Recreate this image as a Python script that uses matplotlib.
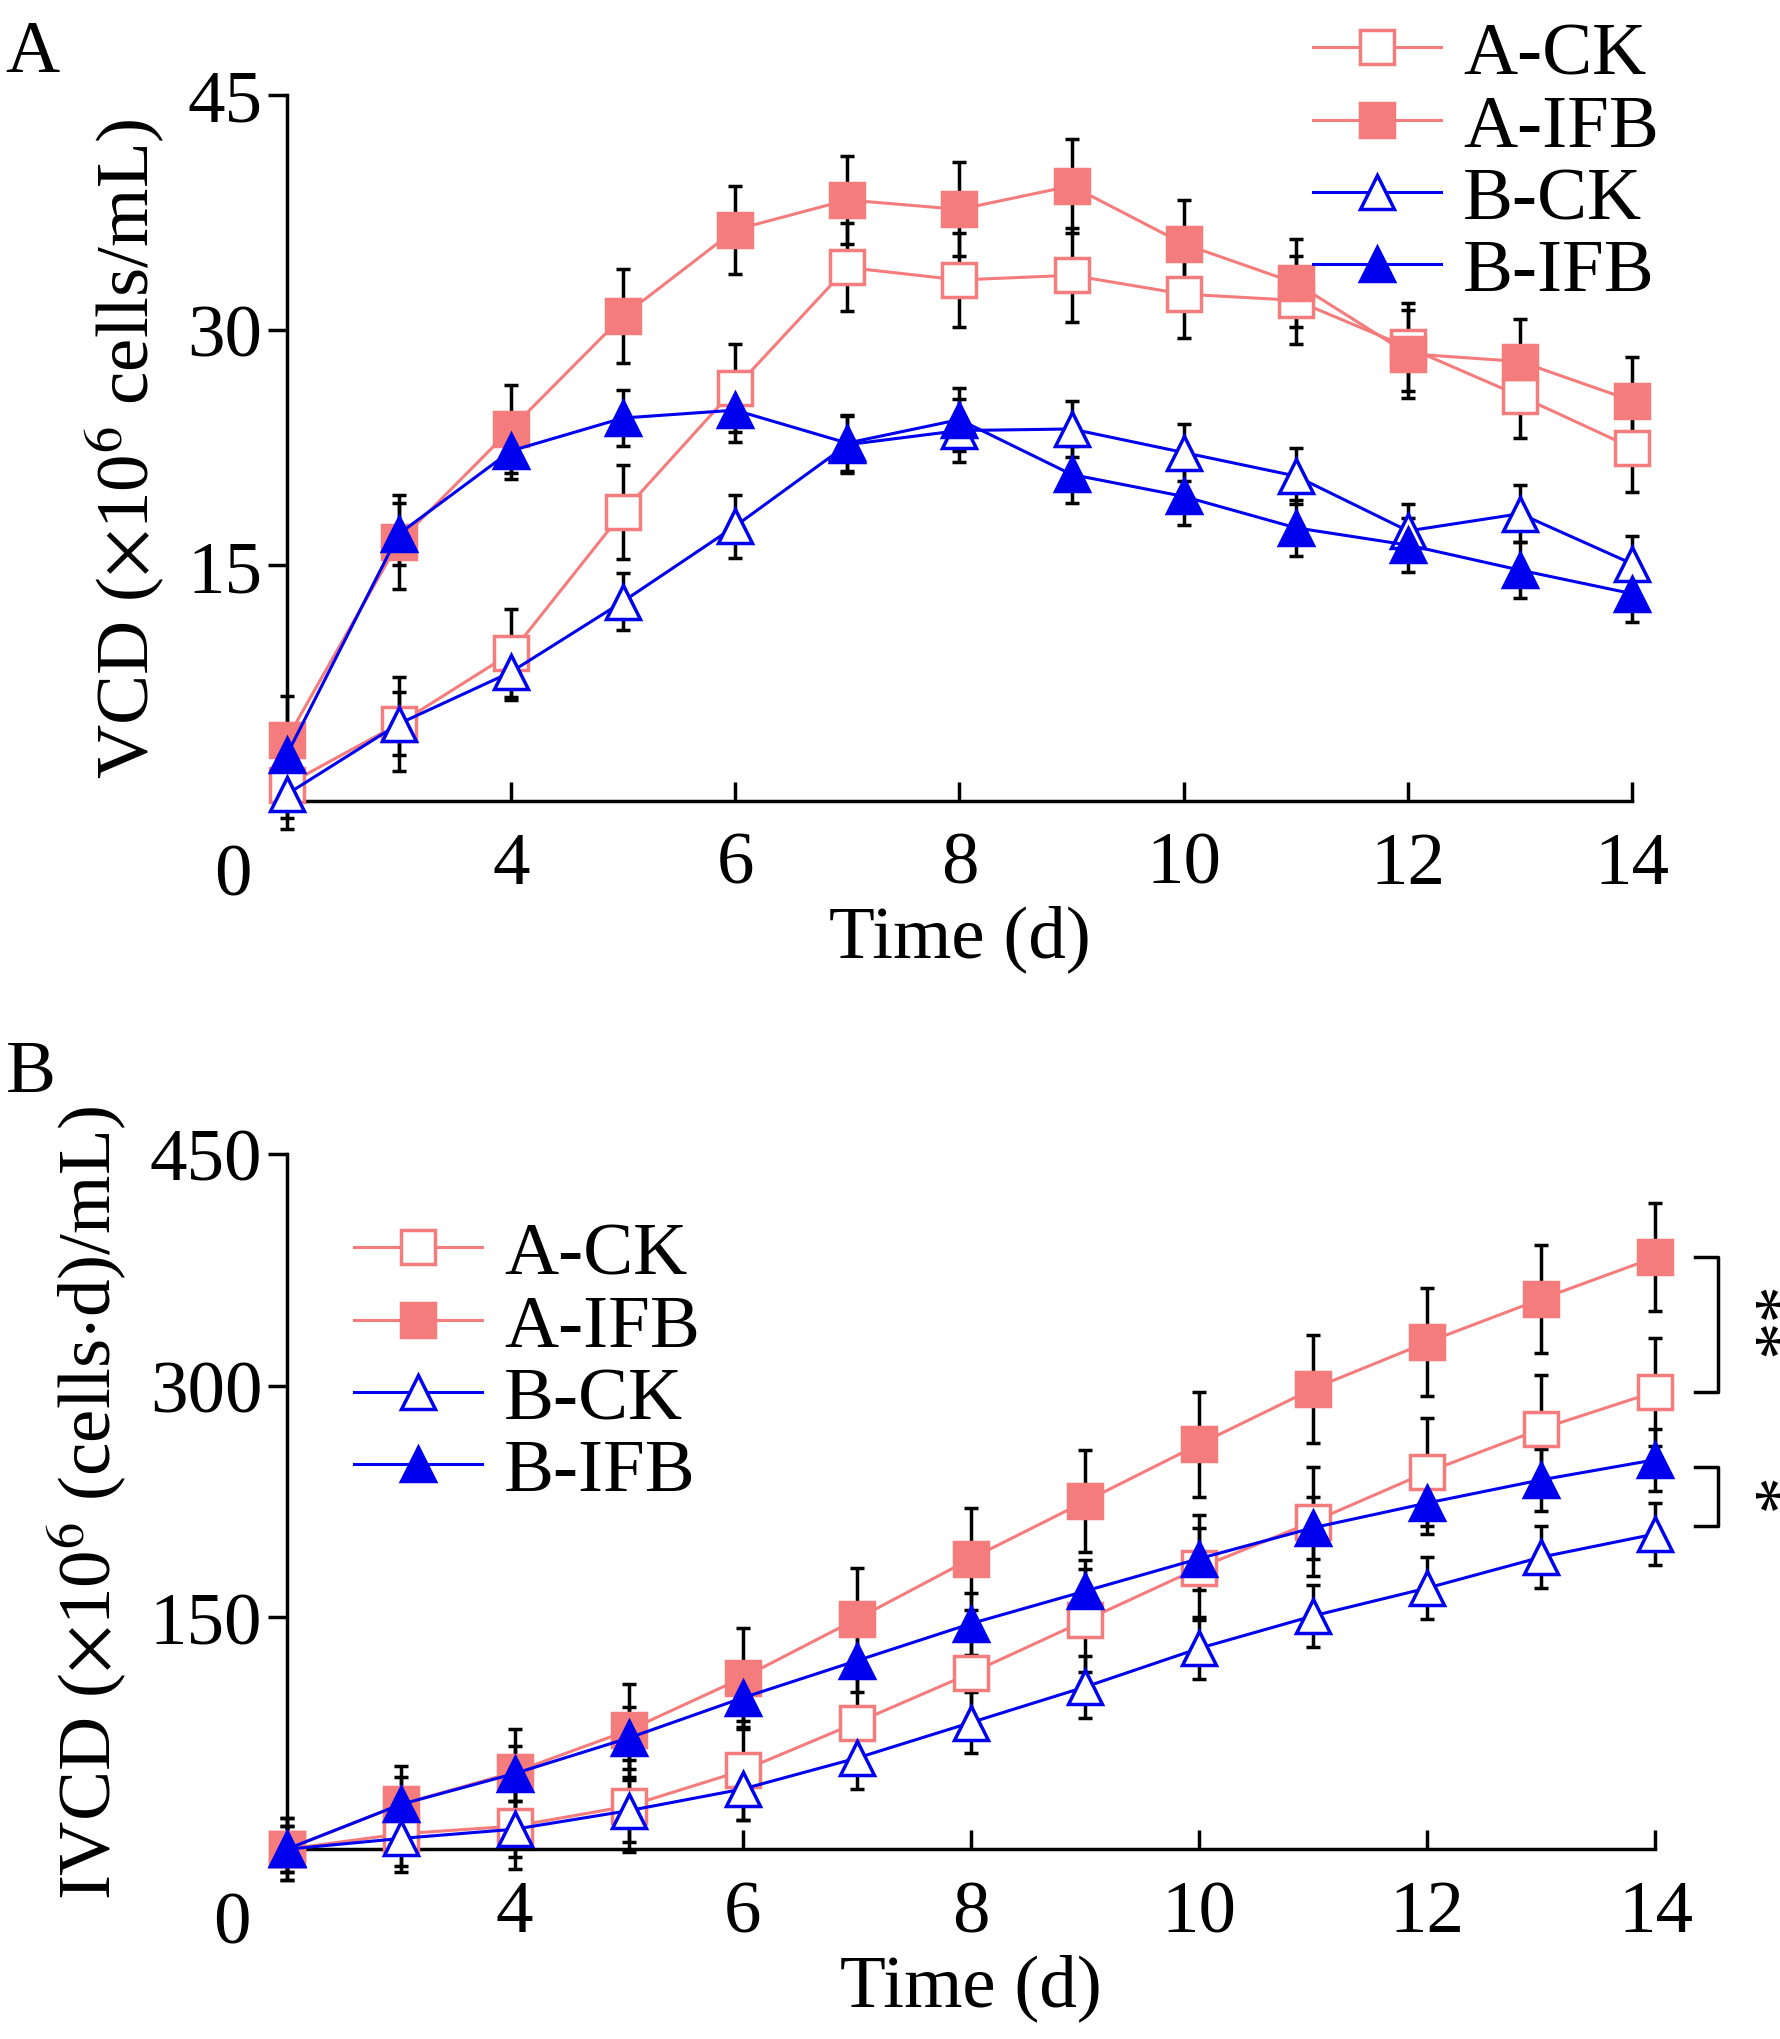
import matplotlib.pyplot as plt
import numpy as np

plt.rcParams['font.family'] = ['Liberation Serif', 'DejaVu Serif']
plt.rcParams['font.size'] = 54
plt.rcParams['mathtext.fontset'] = 'stix'

days = np.arange(2, 15)

# Panel A: VCD (x10^6 cells/mL)
vcd_a_ck = [1.0, 4.9, 9.4, 18.4, 26.3, 34.0, 33.2, 33.5, 32.3, 31.9, 28.9, 25.8, 22.5]
vcd_a_ifb = [3.9, 16.5, 23.7, 30.9, 36.4, 38.3, 37.7, 39.2, 35.5, 33.0, 28.5, 28.0, 25.5]
vcd_b_ck = [0.4, 4.9, 8.2, 12.7, 17.5, 22.7, 23.6, 23.7, 22.2, 20.7, 17.2, 18.3, 15.1]
vcd_b_ifb = [2.9, 17.0, 22.3, 24.4, 24.9, 22.8, 24.3, 20.8, 19.4, 17.4, 16.3, 14.7, 13.2]
vcd_err = [2.8, 3.0, 2.8, 3.0, 2.8, 2.8, 3.0, 3.0, 2.8, 2.8, 2.8, 2.7, 2.8]
vcd_err_b = [1.5, 2.0, 1.8, 1.8, 2.0, 1.8, 2.0, 1.8, 1.8, 1.8, 1.7, 1.8, 1.8]

# Panel B: IVCD (x10^6 cells*d/mL)
ivcd_a_ck = [0, 10, 15, 28, 51, 82, 114, 148, 182, 212, 244, 272, 296]
ivcd_a_ifb = [0, 29, 50, 77, 111, 149, 188, 225, 262, 298, 328, 356, 383]
ivcd_b_ck = [0, 7, 13, 25, 39, 59, 82, 105, 130, 151, 169, 189, 204]
ivcd_b_ifb = [0, 29, 49, 72, 98, 122, 146, 167, 188, 208, 224, 239, 252]
ivcd_err_a = [20, 25, 28, 30, 32, 33, 33, 33, 34, 35, 35, 35, 35]
ivcd_err_b = [15, 18, 18, 20, 20, 20, 20, 20, 20, 20, 20, 20, 20]

pink = '#f47c7c'
blue = '#0000ee'
series_a = [('A-CK', vcd_a_ck, vcd_err, pink, 's', 'white'),
            ('A-IFB', vcd_a_ifb, vcd_err, pink, 's', pink),
            ('B-CK', vcd_b_ck, vcd_err_b, blue, '^', 'white'),
            ('B-IFB', vcd_b_ifb, vcd_err_b, blue, '^', blue)]
series_b = [('A-CK', ivcd_a_ck, ivcd_err_a, pink, 's', 'white'),
            ('A-IFB', ivcd_a_ifb, ivcd_err_a, pink, 's', pink),
            ('B-CK', ivcd_b_ck, ivcd_err_b, blue, '^', 'white'),
            ('B-IFB', ivcd_b_ifb, ivcd_err_b, blue, '^', blue)]

fig = plt.figure(figsize=(17.8, 20.4), dpi=100)
axA = fig.add_axes([0.161, 0.607, 0.756, 0.346])
axB = fig.add_axes([0.161, 0.093, 0.769, 0.341])


def draw(ax, series, ymax, yticks):
    for name, vals, err, col, mk, fc in series:
        ax.errorbar(days, vals, yerr=err, fmt='none', ecolor='black',
                    elinewidth=2.5, capsize=5, capthick=2.5, zorder=2,
                    clip_on=False)
        ax.plot(days, vals, color=col, marker=mk, markersize=24,
                markerfacecolor=fc, markeredgecolor=col, markeredgewidth=2.5,
                linewidth=2.2, label=name, zorder=3, clip_on=False)
    ax.set_xlim(2, 14)
    ax.set_ylim(0, ymax)
    ax.set_xticks([2, 4, 6, 8, 10, 12, 14])
    ax.set_xticklabels(['', '4', '6', '8', '10', '12', '14'])
    ax.set_yticks(yticks)
    ax.spines['top'].set_visible(False)
    ax.spines['right'].set_visible(False)
    for s in ax.spines.values():
        s.set_linewidth(2.5)
    ax.tick_params(axis='x', direction='in', length=14, width=2.5, pad=22)
    ax.tick_params(axis='y', direction='out', length=14, width=2.5)
    ax.text(-0.04, -0.06, '0', transform=ax.transAxes, ha='center', va='top')
    ax.set_xlabel('Time (d)', labelpad=4)


draw(axA, series_a, 45, [15, 30, 45])
axA.set_ylabel(r'VCD ($\times$10$^{6}$ cells/mL)', labelpad=14)
axA.legend(loc='upper right', bbox_to_anchor=(1.07, 1.2), frameon=False,
           handlelength=1.7, handletextpad=0.3, labelspacing=0.05)
fig.text(0.003, 0.99, 'A', va='top')

draw(axB, series_b, 450, [150, 300, 450])
axB.set_ylabel(r'IVCD ($\times$10$^{6}$ (cells$\cdot$d)/mL)', labelpad=14)
axB.legend(loc='upper left', bbox_to_anchor=(0.0, 1.0), frameon=False,
           handlelength=1.7, handletextpad=0.3, labelspacing=0.05)
fig.text(0.003, 0.49, 'B', va='top')

# significance brackets
for y1, y2, lab in [(ivcd_a_ifb[-1], ivcd_a_ck[-1], '**'), (ivcd_b_ifb[-1] - 5, ivcd_b_ck[-1] + 5, '*')]:
    xb = 14.35
    axB.plot([xb, xb + 0.2, xb + 0.2, xb], [y1, y1, y2, y2], color='black',
             linewidth=2.5, clip_on=False)
    axB.text(xb + 0.45, (y1 + y2) / 2, lab, rotation=270, ha='center',
             va='center', fontsize=54, clip_on=False)

plt.savefig('out.png', dpi=100)
plt.close()
